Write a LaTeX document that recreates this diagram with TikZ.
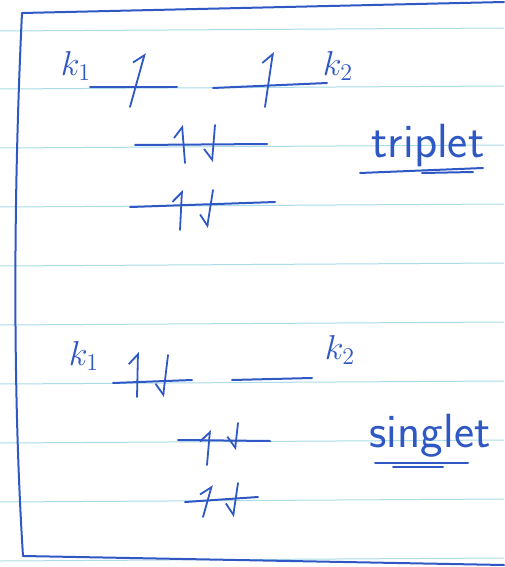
\documentclass[tikz,border=0pt]{standalone}
\usetikzlibrary{arrows.meta}
\definecolor{ink}{RGB}{48,88,196}
\definecolor{ruling}{RGB}{172,220,232}

\begin{document}
\begin{tikzpicture}[x=0.5pt,y=-0.5pt,
  level/.style={ink, line width=1pt, line cap=round},
  spinup/.style={ink, line width=0.9pt, line cap=round, -{Straight Barb[left, length=5pt, width=9pt]}},
  spindown/.style={ink, line width=0.9pt, line cap=round, -{Straight Barb[right, length=5pt, width=9pt]}},
  klabel/.style={text=ink, font=\fontsize{18}{20}\selectfont},
  word/.style={text=ink, font=\sffamily\fontsize{24}{28}\selectfont}]
\useasboundingbox (0,0) rectangle (504,567);
\fill[white] (0,0) rectangle (504,567);
% ruled paper
\foreach \y in {30,88,147,206,265,324,383,442,501,560}
  \draw[ruling, line width=0.5pt] (0,\y+1) -- (504,\y-2);
% margin box
\draw[ink, line width=1pt, line cap=round, line join=round] (504,2) -- (22,13)
  .. controls (13,200) and (13,400) .. (23,556) -- (504,565);

% triplet
\node[klabel] (k1t) at (76,66) {$k_1$};
\node[klabel] (k2t) at (338,66) {$k_2$};
\draw[level] (90,87) -- (177,87);
\draw[spinup] (130,107) -- (145,53);
\draw[level] (213,88) -- (327,83);
\draw[spinup] (265,107) -- (273,52);
\draw[level] (135,145) -- (267,144);
\draw[spinup] (185,163) -- (182,125);
\draw[spindown] (215,125) -- (212,162);
\draw[level] (130,207) -- (275,202);
\draw[spinup] (180,230) -- (182,190);
\draw[spindown] (213,190) -- (207,228);
\node[word] (trip) at (428,146) {triplet};
\draw[level] (360,173) -- (483,168);
\draw[level] (422,173) -- (473,172);

% singlet
\node[klabel] (k1s) at (84,356) {$k_1$};
\node[klabel] (k2s) at (340,350) {$k_2$};
\draw[level] (113,383) -- (192,380);
\draw[spinup] (137,397) -- (138,352);
\draw[spindown] (168,355) -- (163,397);
\draw[level] (232,380) -- (312,378);
\draw[level] (178,440) -- (270,441);
\draw[spinup] (207,465) -- (210,430);
\draw[spindown] (238,423) -- (235,450);
\draw[level] (185,502) -- (258,497);
\draw[spinup] (203,517) -- (212,485);
\draw[spindown] (238,483) -- (233,517);
\node[word] (sing) at (430,436) {singlet};
\draw[level] (375,463) -- (468,463);
\draw[level] (393,467) -- (443,467);
\end{tikzpicture}
\end{document}
